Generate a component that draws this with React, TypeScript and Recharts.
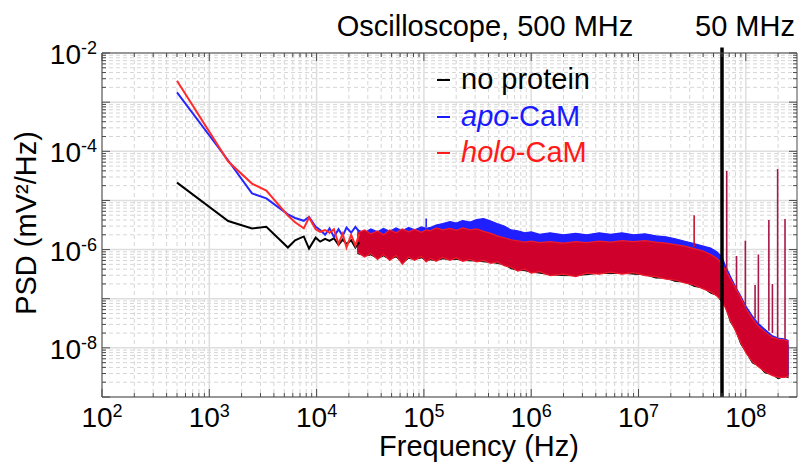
import {
  ComposedChart,
  XAxis,
  YAxis,
  Line,
  Area,
  CartesianGrid,
  ReferenceLine,
  Label,
  Legend,
} from 'recharts'

const FONT = '"Liberation Sans", Arial, Helvetica, sans-serif'
const AXIS = '#4a4a4a'

// ---- low-frequency part (individual FFT bins) ----
const lowFreq = [500, 1500, 2500, 3400, 5400, 6300, 7600, 8500, 9800, 10800, 12000, 13200, 14500, 16000, 17500, 19000, 21000, 23000, 25000]
const lowNoProtein = [2.3e-5, 3.8e-6, 2.7e-6, 2.9e-6, 1.1e-6, 1.55e-6, 1.85e-6, 1.05e-6, 1.75e-6, 1.45e-6, 1.65e-6, 1.5e-6, 1.7e-6, 1.25e-6, 1.6e-6, 1.3e-6, 1.55e-6, 1.1e-6, 1.4e-6]
const lowApo = [1.58e-3, 6.5e-5, 1.39e-5, 1.1e-5, 5.2e-6, 4.4e-6, 3.85e-6, 4.6e-6, 2.9e-6, 2.5e-6, 2.0e-6, 2.7e-6, 1.8e-6, 2.6e-6, 1.9e-6, 2.8e-6, 2.2e-6, 2.9e-6, 2.3e-6]
const lowHolo = [2.73e-3, 6.2e-5, 2.2e-5, 1.58e-5, 4.9e-6, 3.6e-6, 2.7e-6, 4.5e-6, 2.6e-6, 2.3e-6, 2.5e-6, 2.2e-6, 2.6e-6, 1.3e-6, 2.1e-6, 1.1e-6, 2.0e-6, 1.2e-6, 2.1e-6]

// ---- dense noise band: envelope (log10 of PSD) at these frequencies ----
const bandFreq = [24000, 28000, 32000, 37000, 42000, 48000, 55000, 63000, 72000, 82000, 95000, 105000, 115000, 130000, 150000, 175000, 200000, 230000, 270000, 310000, 360000, 420000, 480000, 560000, 650000, 750000, 870000, 1e6, 1.2e6, 1.5e6, 2e6, 2.6e6, 3.3e6, 4.3e6, 5.5e6, 7e6, 9e6, 1.15e7, 1.45e7, 1.8e7, 2.2e7, 2.7e7, 3.3e7, 4e7, 4.7e7, 5.4e7, 6e7, 6.5e7, 7.2e7, 8e7, 9e7, 1e8, 1.15e8, 1.3e8, 1.5e8, 1.75e8, 2e8, 2.3e8, 2.5e8]

const apoHi = [-5.60, -5.66, -5.58, -5.64, -5.57, -5.63, -5.56, -5.62, -5.55, -5.60, -5.54, -5.57, -5.55, -5.50, -5.47, -5.43, -5.46, -5.41, -5.44, -5.39, -5.37, -5.42, -5.47, -5.52, -5.60, -5.62, -5.66, -5.64, -5.69, -5.66, -5.70, -5.67, -5.70, -5.66, -5.69, -5.66, -5.70, -5.68, -5.72, -5.74, -5.78, -5.83, -5.88, -5.93, -5.97, -6.05, -6.15, -6.35, -6.55, -6.75, -6.95, -7.15, -7.35, -7.50, -7.62, -7.75, -7.80, -7.82, -7.85]
const apoLo = [-6.0, -6.1, -6.03, -6.15, -6.05, -6.17, -6.07, -6.25, -6.1, -6.17, -6.09, -6.2, -6.13, -6.19, -6.11, -6.17, -6.12, -6.19, -6.15, -6.2, -6.17, -6.25, -6.23, -6.3, -6.33, -6.4, -6.37, -6.45, -6.41, -6.48, -6.45, -6.5, -6.43, -6.45, -6.41, -6.45, -6.42, -6.48, -6.5, -6.55, -6.57, -6.63, -6.67, -6.75, -6.81, -6.9, -7.0, -7.15, -7.4, -7.6, -7.85, -8.05, -8.23, -8.33, -8.43, -8.51, -8.55, -8.55, -8.53]

const holoHi = [-5.66, -5.60, -5.68, -5.62, -5.70, -5.60, -5.66, -5.58, -5.64, -5.59, -5.65, -5.60, -5.62, -5.56, -5.60, -5.57, -5.61, -5.56, -5.60, -5.58, -5.63, -5.67, -5.72, -5.76, -5.80, -5.82, -5.85, -5.83, -5.86, -5.84, -5.87, -5.84, -5.86, -5.83, -5.85, -5.82, -5.84, -5.82, -5.85, -5.87, -5.90, -5.93, -5.98, -6.03, -6.10, -6.18, -6.30, -6.42, -6.60, -6.78, -6.98, -7.20, -7.40, -7.55, -7.67, -7.78, -7.82, -7.84, -7.86]
const holoLo = [-6.05, -6.15, -6.08, -6.20, -6.10, -6.22, -6.12, -6.30, -6.15, -6.22, -6.14, -6.25, -6.18, -6.24, -6.16, -6.22, -6.17, -6.24, -6.20, -6.25, -6.22, -6.28, -6.25, -6.33, -6.36, -6.44, -6.40, -6.48, -6.45, -6.53, -6.50, -6.55, -6.48, -6.50, -6.46, -6.50, -6.47, -6.53, -6.55, -6.60, -6.62, -6.68, -6.72, -6.80, -6.86, -6.95, -7.05, -7.20, -7.45, -7.65, -7.90, -8.10, -8.28, -8.38, -8.48, -8.56, -8.60, -8.60, -8.58]

const noProteinHi = [-5.80, -5.76, -5.82, -5.78, -5.84, -5.76, -5.80, -5.74, -5.78, -5.74, -5.78, -5.74, -5.76, -5.72, -5.75, -5.72, -5.76, -5.72, -5.76, -5.74, -5.78, -5.82, -5.86, -5.90, -5.93, -5.95, -5.97, -5.96, -5.98, -5.97, -5.99, -5.97, -5.98, -5.96, -5.97, -5.95, -5.97, -5.96, -5.98, -6.00, -6.03, -6.06, -6.10, -6.15, -6.22, -6.30, -6.42, -6.55, -6.75, -6.93, -7.12, -7.32, -7.52, -7.66, -7.77, -7.87, -7.91, -7.93, -7.95]
const noProteinLo = [-6.08, -6.13, -6.11, -6.18, -6.13, -6.20, -6.15, -6.28, -6.18, -6.20, -6.17, -6.23, -6.21, -6.22, -6.19, -6.20, -6.20, -6.22, -6.23, -6.23, -6.25, -6.26, -6.28, -6.31, -6.39, -6.42, -6.43, -6.46, -6.48, -6.51, -6.53, -6.53, -6.51, -6.48, -6.49, -6.48, -6.50, -6.51, -6.58, -6.58, -6.65, -6.66, -6.75, -6.78, -6.89, -6.93, -7.08, -7.18, -7.48, -7.63, -7.93, -8.08, -8.31, -8.36, -8.51, -8.54, -8.63, -8.58, -8.61]

// narrow spectral lines (log10 PSD at their foot and at their tip)
const spikeFreq = [1.05e5, 3.3e7, 6.64e7, 8.2e7, 9.9e7, 1.22e8, 1.31e8, 1.64e8, 1.77e8, 1.98e8, 2.32e8]
const spikeBase = [-5.55, -5.95, -6.45, -6.8, -7.2, -7.4, -7.5, -7.65, -7.7, -7.8, -7.82]
const spikeTop = [-5.37, -5.30, -4.40, -6.13, -5.82, -6.72, -6.10, -5.40, -6.70, -4.36, -5.38]
const spikeColors = ['#2626ff', '#c8102e', '#a8184a', '#a8184a', '#a8184a', '#a8184a', '#a8184a', '#a8184a', '#a8184a', '#a8184a', '#a8184a']

const CUTOFF_FREQ = 6e7

// axes
const xMajor = [1e2, 1e3, 1e4, 1e5, 1e6, 1e7, 1e8]
const yMajor = [1e-9, 1e-8, 1e-7, 1e-6, 1e-5, 1e-4, 1e-3, 1e-2]
const yLabelledExp = [-8, -6, -4, -2]
const X_MAX = 3e8

function minorsOf(majors: number[], max: number) {
  const out: number[] = []
  majors.forEach((m) => {
    for (let k = 2; k <= 9; k++) {
      const v = m * k
      if (v < max) out.push(v)
    }
  })
  return out
}
const xMinor = minorsOf(xMajor, X_MAX)
const yMinor = minorsOf(yMajor, 1e-2)
const xTicks = [...xMajor, ...xMinor].sort((a, b) => a - b)
const yTicks = [...yMajor, ...yMinor].sort((a, b) => a - b)

const expOf = (v: number) => Math.round(Math.log10(v))
const isMajor = (v: number) => Math.abs(v - 10 ** expOf(v)) / v < 1e-6

const lowRows = (v: number[]) => lowFreq.map((f, i) => ({ f, v: v[i] }))
const bandRows = (lo: number[], hi: number[]) => bandFreq.map((f, i) => ({ f, r: [10 ** lo[i], 10 ** hi[i]] }))

function BottomTick(props: any) {
  const { x, y, payload } = props
  const v = payload.value
  const major = isMajor(v)
  return (
    <g>
      <line x1={x} x2={x} y1={y} y2={y - (major ? 8 : 4)} stroke={AXIS} />
      {major && (
        <text x={x} y={y + 30} textAnchor="middle" fontFamily={FONT} fontSize={28} fill="#000">
          10<tspan fontSize={18} dy={-10}>{expOf(v)}</tspan>
        </text>
      )}
    </g>
  )
}

function TopTick(props: any) {
  const { x, y, payload } = props
  const major = isMajor(payload.value)
  return <line x1={x} x2={x} y1={y} y2={y + (major ? 8 : 4)} stroke={AXIS} />
}

function LeftTick(props: any) {
  const { x, y, payload } = props
  const v = payload.value
  const major = isMajor(v)
  const exp = expOf(v)
  return (
    <g>
      <line x1={x} x2={x + (major ? 8 : 4)} y1={y} y2={y} stroke={AXIS} />
      {major && yLabelledExp.includes(exp) && (
        <text x={x - 5} y={y + 11} textAnchor="end" fontFamily={FONT} fontSize={28} fill="#000">
          10<tspan fontSize={18} dy={-10}>{exp}</tspan>
        </text>
      )}
    </g>
  )
}

function RightTick(props: any) {
  const { x, y, payload } = props
  const major = isMajor(payload.value)
  return <line x1={x} x2={x - (major ? 8 : 4)} y1={y} y2={y} stroke={AXIS} />
}

function LegendBox() {
  const dash = (color: string) => (
    <span
      style={{
        display: 'inline-block',
        width: 13,
        height: 2,
        background: color,
        marginRight: 11,
        transform: 'translateY(-8px)',
      }}
    />
  )
  return (
    <div style={{ fontFamily: FONT, fontSize: 29, lineHeight: '36.5px', whiteSpace: 'nowrap' }}>
      <div style={{ color: '#000' }}>
        {dash('#000')}no protein
      </div>
      <div style={{ color: '#1a1aff' }}>
        {dash('#1a1aff')}
        <i>apo</i>-CaM
      </div>
      <div style={{ color: '#ff1a1a' }}>
        {dash('#ff1a1a')}
        <i>holo</i>-CaM
      </div>
    </div>
  )
}

export default function App() {
  return (
    <div style={{ position: 'absolute', left: 0, top: 0, width: 803, height: 462, background: '#fff' }}>
      <ComposedChart width={803} height={462} margin={{ top: 52, right: 5, bottom: 64, left: 101 }}>
        <CartesianGrid verticalValues={xMinor} horizontalValues={yMinor} stroke="#d6d6d6" strokeDasharray="4 3" fill="none" />
        <CartesianGrid verticalValues={xMajor} horizontalValues={yMajor} stroke="#dedede" strokeWidth={1.5} fill="none" />

        <XAxis
          dataKey="f"
          type="number"
          scale="log"
          domain={[100, X_MAX]}
          allowDataOverflow
          ticks={xTicks}
          interval={0}
          tick={(p: any) => <BottomTick {...p} />}
          tickLine={false}
          tickSize={0}
          tickMargin={0}
          height={1}
          axisLine={{ stroke: AXIS }}
        >
          <Label
            content={() => (
              <text x={479} y={456} textAnchor="middle" fontFamily={FONT} fontSize={29} fill="#000">
                Frequency (Hz)
              </text>
            )}
          />
        </XAxis>
        <XAxis
          xAxisId="top"
          orientation="top"
          dataKey="f"
          type="number"
          scale="log"
          domain={[100, X_MAX]}
          allowDataOverflow
          ticks={xTicks}
          interval={0}
          tick={(p: any) => <TopTick {...p} />}
          tickLine={false}
          tickSize={0}
          tickMargin={0}
          height={1}
          axisLine={{ stroke: AXIS }}
        >
          <Label
            content={() => (
              <g fontFamily={FONT} fontSize={29} fill="#000">
                <text x={485} y={36} textAnchor="middle">
                  Oscilloscope, 500 MHz
                </text>
                <text x={745} y={36} textAnchor="middle">
                  50 MHz
                </text>
              </g>
            )}
          />
        </XAxis>
        <YAxis
          type="number"
          scale="log"
          domain={[1e-9, 1e-2]}
          allowDataOverflow
          ticks={yTicks}
          interval={0}
          tick={(p: any) => <LeftTick {...p} />}
          tickLine={false}
          tickSize={0}
          tickMargin={0}
          width={1}
          axisLine={{ stroke: AXIS }}
        >
          <Label
            content={() => (
              <text transform="translate(36,223) rotate(-90)" textAnchor="middle" fontFamily={FONT} fontSize={29} fill="#000">
                PSD (mV²/Hz)
              </text>
            )}
          />
        </YAxis>
        <YAxis
          yAxisId="right"
          orientation="right"
          type="number"
          scale="log"
          domain={[1e-9, 1e-2]}
          allowDataOverflow
          ticks={yTicks}
          interval={0}
          tick={(p: any) => <RightTick {...p} />}
          tickLine={false}
          tickSize={0}
          tickMargin={0}
          width={1}
          axisLine={{ stroke: AXIS }}
        />

        <Line data={lowRows(lowNoProtein)} dataKey="v" type="linear" stroke="#000" strokeWidth={2} dot={false} activeDot={false} isAnimationActive={false} />
        <Area data={bandRows(noProteinLo, noProteinHi)} dataKey="r" type="linear" stroke="#111" strokeWidth={1} fill="#111" fillOpacity={1} dot={false} activeDot={false} isAnimationActive={false} />
        <Line data={lowRows(lowApo)} dataKey="v" type="linear" stroke="#2626ff" strokeWidth={2} dot={false} activeDot={false} isAnimationActive={false} />
        <Area data={bandRows(apoLo, apoHi)} dataKey="r" type="linear" stroke="#1f1fff" strokeWidth={1.2} fill="#1f1fff" fillOpacity={1} dot={false} activeDot={false} isAnimationActive={false} />
        <Line data={lowRows(lowHolo)} dataKey="v" type="linear" stroke="#ff2b2b" strokeWidth={2} dot={false} activeDot={false} isAnimationActive={false} />
        <Area data={bandRows(holoLo, holoHi)} dataKey="r" type="linear" stroke="#f01c2c" strokeWidth={1.2} fill="#d0002c" fillOpacity={1} dot={false} activeDot={false} isAnimationActive={false} />

        {spikeFreq.map((f, i) => (
          <ReferenceLine
            key={`spike-${i}`}
            segment={[
              { x: f, y: 10 ** spikeBase[i] },
              { x: f, y: 10 ** spikeTop[i] },
            ]}
            stroke={spikeColors[i]}
            strokeWidth={1.6}
          />
        ))}
        <ReferenceLine
          segment={[
            { x: CUTOFF_FREQ, y: 1e-9 },
            { x: CUTOFF_FREQ, y: 1.3e-2 },
          ]}
          ifOverflow="visible"
          stroke="#000"
          strokeWidth={3.5}
        />

        <Legend
          layout="horizontal"
          verticalAlign="middle"
          align="center"
          wrapperStyle={{ left: 437, top: 61, width: 'auto', height: 'auto' }}
          content={() => <LegendBox />}
        />
      </ComposedChart>
    </div>
  )
}
